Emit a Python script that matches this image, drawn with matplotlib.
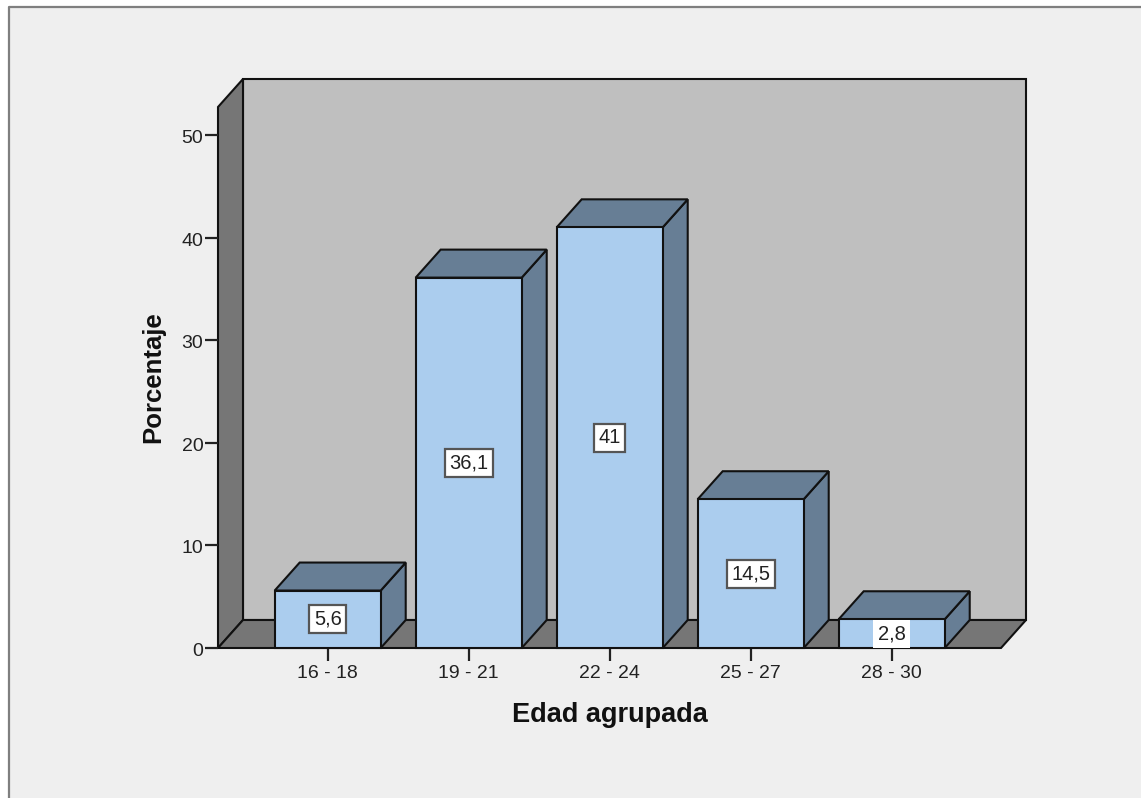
import matplotlib
matplotlib.use("Agg")
import matplotlib.pyplot as plt
from matplotlib.patches import Polygon, Rectangle
from matplotlib.transforms import ScaledTranslation

plt.rcParams['font.family'] = ['Liberation Sans', 'DejaVu Sans']

categories = ['16 - 18', '19 - 21', '22 - 24', '25 - 27', '28 - 30']
values = [5.6, 36.1, 41.0, 14.5, 2.8]
value_labels = ['5,6', '36,1', '41', '14,5', '2,8']
y_ticks = [0, 10, 20, 30, 40, 50]

W, H = 1141, 798
fig = plt.figure(figsize=(W / 100, H / 100), dpi=100, facecolor='white')

# Chart panel with its grey frame on the top and left sides only
fig.add_artist(Rectangle((8 / W, 0), 1 - 8 / W, 1 - 6 / H, transform=fig.transFigure,
                         facecolor='#efefef', edgecolor='none', zorder=-2))
fig.add_artist(plt.Line2D([8.5 / W, 8.5 / W, 1], [0, 1 - 6.5 / H, 1 - 6.5 / H],
                          transform=fig.transFigure, color='#7f7f7f', lw=1.6, zorder=-1))

# Axes covers the front plane of the pseudo-3D box
left, right, bottom, top = 218, 1001, 648, 107
ax = fig.add_axes([left / W, 1 - bottom / H, (right - left) / W, (bottom - top) / H])
ax.patch.set_visible(False)
px_per_cat = 141.0
px_per_unit = 10.26
first_center = 327.7
ax.set_xlim((left - first_center) / px_per_cat, (right - first_center) / px_per_cat)
ax.set_ylim(0, (bottom - top) / px_per_unit)
for s in ax.spines.values():
    s.set_visible(False)

dx = 25 / px_per_cat
dy = 28 / px_per_unit
x0, x1 = ax.get_xlim()
y0, y1 = ax.get_ylim()
edge = dict(edgecolor='#111111', linewidth=1.5, joinstyle='miter')


def poly(points, color, z):
    ax.add_patch(Polygon(points, closed=True, facecolor=color, zorder=z,
                         clip_on=False, **edge))


# Back wall, side wall and floor
poly([(x0 + dx, y0 + dy), (x1 + dx, y0 + dy), (x1 + dx, y1 + dy), (x0 + dx, y1 + dy)], '#bfbfbf', 1)
poly([(x0, y0), (x0 + dx, y0 + dy), (x0 + dx, y1 + dy), (x0, y1)], '#767676', 1)
poly([(x0, y0), (x1, y0), (x1 + dx, y0 + dy), (x0 + dx, y0 + dy)], '#767676', 1)

# Bars: front face, top face and side face
w = 0.376
for i, v in enumerate(values):
    poly([(i + w, 0), (i + w + dx, dy), (i + w + dx, v + dy), (i + w, v)], '#677e95', 3)
    poly([(i - w, v), (i + w, v), (i + w + dx, v + dy), (i - w + dx, v + dy)], '#677e95', 3)
    ax.bar(i, v, width=2 * w, color='#abcdee', zorder=3, clip_on=False, **edge)

# Value labels centred in each bar
for i, (v, lab) in enumerate(zip(values, value_labels)):
    framed = v > 3
    ax.text(i, v / 2, lab, ha='center', va='center', fontsize=14.5, color='#222222', zorder=5,
            bbox=dict(boxstyle='square,pad=0.22', facecolor='white',
                      edgecolor='#555555' if framed else 'none', linewidth=1.6))

ax.set_xticks(range(len(categories)), categories)
ax.set_yticks(y_ticks)
ax.tick_params(axis='both', length=9.5, width=1.6, color='#222222', labelsize=14,
               labelcolor='#222222', pad=1)
ax.tick_params(axis='x', pad=3)

# Y tick numbers sit slightly below their tick marks
nudge = ScaledTranslation(0, -1.5 / 100, fig.dpi_scale_trans)
for label in ax.get_yticklabels():
    label.set_transform(label.get_transform() + nudge)

ax.set_xlabel('Edad agrupada', fontsize=19.5, fontweight='bold', color='#111111', labelpad=14)
ax.set_ylabel('Porcentaje', fontsize=18.5, fontweight='bold', color='#111111', labelpad=12)

fig.savefig('out.png', dpi=100, facecolor=fig.get_facecolor())
